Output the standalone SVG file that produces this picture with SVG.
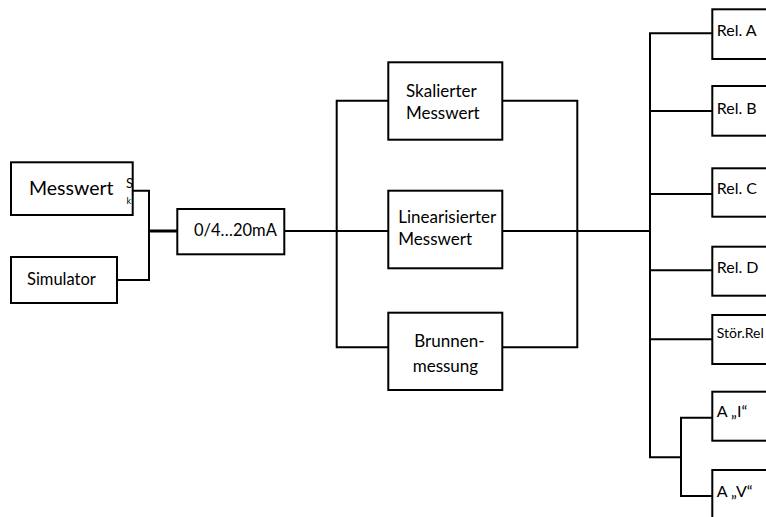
<svg xmlns="http://www.w3.org/2000/svg" width="766" height="517" viewBox="0 0 766 517">
  <style>
    .box { fill: #ffffff; stroke: #000000; stroke-width: 2; }
    .wire { fill: none; stroke: #000000; stroke-width: 2; }
    .thick { fill: none; stroke: #000000; stroke-width: 3; }
    text { font-family: Lato, "Liberation Sans", Arial, sans-serif; fill: #000000; }
    .mid { font-size: 17px; }
    .rel { font-size: 16px; }
  </style>
  <rect width="766" height="517" fill="#ffffff"/>

  <!-- connectors -->
  <g id="connectors">
    <!-- inputs to converter -->
    <polyline class="wire" points="118,190.7 149,190.7 149,280 117,280"/>
    <line class="thick" x1="149" y1="231" x2="178" y2="231"/>
    <!-- converter to processing branches -->
    <line class="wire" x1="284" y1="231" x2="336.7" y2="231"/>
    <polyline class="wire" points="388,100.7 336.7,100.7 336.7,347.3 388,347.3"/>
    <line class="wire" x1="336.7" y1="231" x2="388" y2="231"/>
    <polyline class="wire" points="502.5,100.7 577.3,100.7 577.3,347.3 502.5,347.3"/>
    <line class="wire" x1="502.5" y1="231" x2="650" y2="231"/>
    <!-- output bus -->
    <polyline class="wire" points="712,33.3 650,33.3 650,457.3 681,457.3"/>
    <line class="wire" x1="650" y1="111" x2="712" y2="111"/>
    <line class="wire" x1="650" y1="194" x2="712" y2="194"/>
    <line class="wire" x1="650" y1="270.3" x2="712" y2="270.3"/>
    <line class="wire" x1="650" y1="339.3" x2="712" y2="339.3"/>
    <polyline class="wire" points="712,417.7 681,417.7 681,496 712,496"/>
  </g>

  <g id="messwert">
    <rect class="box" x="11" y="162.3" width="121.7" height="52.7"/>
    <text x="29" y="195" font-size="19.5px">Messwert</text>
    <text x="126" y="188" font-size="13px">S</text>
    <text x="126.5" y="204.3" font-size="9px">k</text>
  </g>

  <g id="simulator">
    <rect class="box" x="11" y="257" width="106" height="46"/>
    <text x="27" y="285" font-size="16.5px">Simulator</text>
  </g>

  <g id="converter">
    <rect class="box" x="177.3" y="209" width="107" height="45.3"/>
    <text x="194" y="235.7" font-size="16.5px">0/4…20mA</text>
  </g>

  <g id="skaliert">
    <rect class="box" x="388.3" y="62.3" width="114" height="77.4"/>
    <text class="mid" x="406" y="97.3">Skalierter</text>
    <text class="mid" x="406" y="119">Messwert</text>
  </g>

  <g id="linearisiert">
    <rect class="box" x="388.3" y="190.7" width="114" height="77.6"/>
    <text class="mid" x="398.3" y="222.7">Linearisierter</text>
    <text class="mid" x="398.3" y="245">Messwert</text>
  </g>

  <g id="brunnen">
    <rect class="box" x="388.3" y="312.7" width="114" height="77.3"/>
    <text class="mid" x="414.3" y="347.3">Brunnen-</text>
    <text class="mid" x="412.7" y="371.7">messung</text>
  </g>

  <g id="rel-a">
    <rect class="box" x="712.3" y="9.3" width="80" height="49.7"/>
    <text class="rel" x="716.7" y="36">Rel. A</text>
  </g>

  <g id="rel-b">
    <rect class="box" x="712.3" y="86" width="80" height="49.7"/>
    <text class="rel" x="716.7" y="113.5">Rel. B</text>
  </g>

  <g id="rel-c">
    <rect class="box" x="712.3" y="168.3" width="80" height="48.4"/>
    <text class="rel" x="716.7" y="194.3">Rel. C</text>
  </g>

  <g id="rel-d">
    <rect class="box" x="712.3" y="246.7" width="80" height="49"/>
    <text class="rel" x="716.7" y="272.5">Rel. D</text>
  </g>

  <g id="stoer-rel">
    <rect class="box" x="712.3" y="315" width="80" height="49"/>
    <text x="716.7" y="337.7" font-size="14px">Stör.Rel</text>
  </g>

  <g id="analog-i">
    <rect class="box" x="712.3" y="391.7" width="80" height="49"/>
    <text class="rel" x="716.7" y="416.7">A „I“</text>
  </g>

  <g id="analog-v">
    <rect class="box" x="712.3" y="470" width="80" height="60"/>
    <text class="rel" x="716.7" y="496.7">A „V“</text>
  </g>
</svg>
